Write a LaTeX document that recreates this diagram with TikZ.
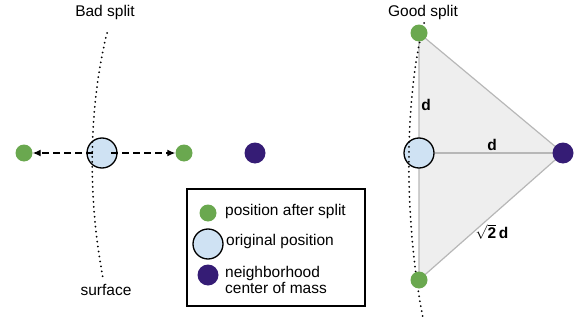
\documentclass[tikz,border=0pt]{standalone}
\usepackage{fontspec}
\setmainfont{Liberation Sans}
\usepackage{tikz}
\usetikzlibrary{arrows.meta, positioning}
\definecolor{splitgreen}{HTML}{6AA84F}
\definecolor{origblue}{HTML}{CFE2F3}
\definecolor{masspurple}{HTML}{351C75}
\definecolor{trifill}{HTML}{EEEEEE}
\definecolor{triline}{HTML}{B7B7B7}

\begin{document}
\begin{tikzpicture}[
    x=1pt, y=-1pt,
    every node/.style={font=\fontsize{15.5}{16.5}\selectfont, inner sep=0pt},
    greendot/.style={circle, fill=splitgreen, minimum size=17pt},
    origdot/.style={circle, draw=black, line width=1.3pt, fill=origblue, minimum size=30pt},
    massdot/.style={circle, fill=masspurple, minimum size=21pt},
    surfaceline/.style={line width=2pt, dash pattern=on 0pt off 5pt, line cap=round},
    splitarrow/.style={line width=1.3pt, dash pattern=on 7pt off 4pt, -{Latex[length=8pt,width=7pt]}},
    triedge/.style={draw=triline, line width=1.2pt},
    dlabel/.style={font=\fontsize{15.5}{16.5}\selectfont\bfseries},
]
\useasboundingbox (0,0) rectangle (579,324);
% bad split
\node (badtitle) at (105,12) {Bad split};
\node (surflabel) at (106,290) {surface};
\node[origdot] (origL) at (102,153) {};
\draw[surfaceline] (107,33) .. controls (88,110) and (88,200) .. (103,278);
\node[greendot] (greenL) at (24,153) {};
\node[greendot] (greenR) at (184,153) {};
\node[massdot] (massL) at (255,153) {};
\draw[splitarrow] ([xshift=-9pt]origL.center) -- (greenL.east);
\draw[splitarrow] ([xshift=9pt]origL.center) -- (greenR.west);
% good split
\node (goodtitle) at (423,12) {Good split};
\coordinate (top) at (419,33);
\coordinate (bot) at (419,280);
\coordinate (com) at (563,153);
\fill[trifill] (top) -- (com) -- (bot) -- cycle;
\draw[triedge] (top) -- (com) -- (bot) -- cycle;
\node[origdot] (origG) at (419,153) {};
\draw[triedge] (origG.east) -- (com);
\draw[surfaceline] (424,23) .. controls (404,100) and (404,220) .. (423,318);
\node[greendot] (greenT) at (top) {};
\node[greendot] (greenB) at (bot) {};
\node[massdot] (massG) at (com) {};
\node[dlabel] (dvert) at (426,105) {d};
\node[dlabel] (dhorz) at (492,145) {d};
\node[dlabel] (ddiag) at (492,232) {$\sqrt{\textbf{2}}$\,d};
% legend
\draw[line width=1.3pt] (187,189) rectangle (365,306);
\node[greendot] (keygreen) at (208,213) {};
\node[anchor=west] (keygreentxt) at (225,211.5) {position after split};
\node[origdot] (keyorig) at (208,244) {};
\node[anchor=west] (keyorigtxt) at (226,241.5) {original position};
\node[massdot] (keymass) at (208,275) {};
\node[anchor=west, align=left] (keymasstxt) at (225,280) {neighborhood\\center of mass};
\end{tikzpicture}
\end{document}
